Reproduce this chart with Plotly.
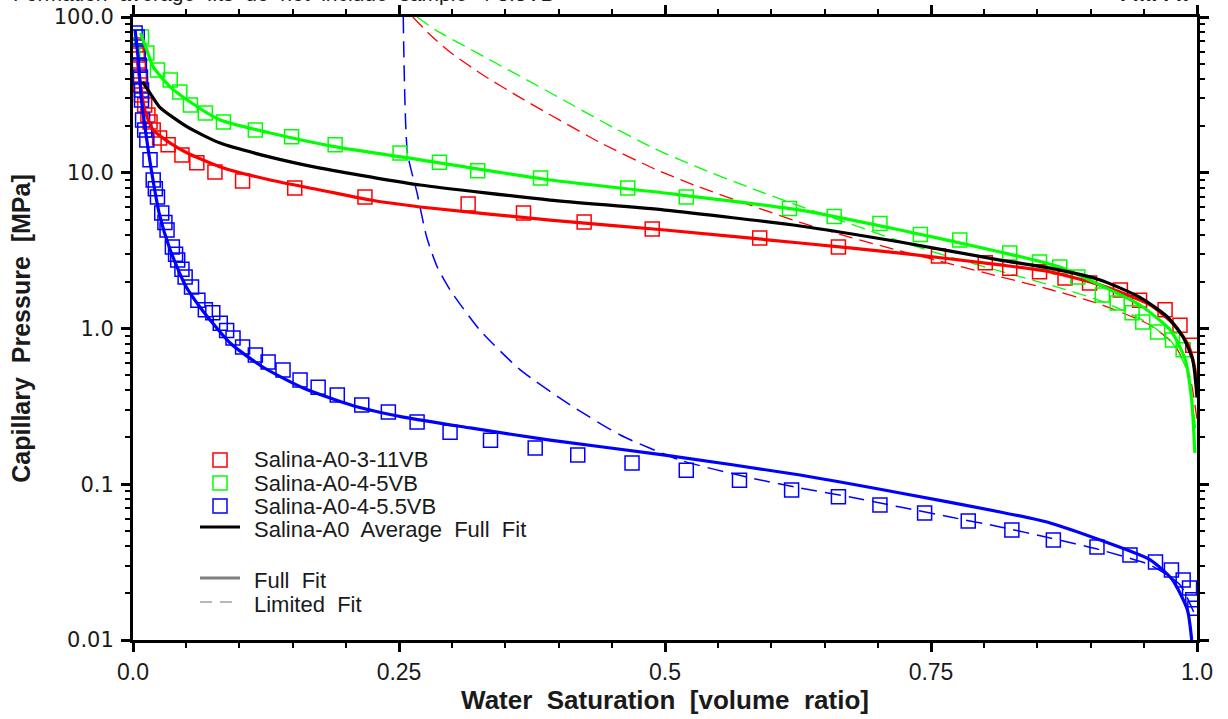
import plotly.graph_objects as go

# ---- measured samples (water saturation, capillary pressure MPa) ----
red_sw = [0.003, 0.004, 0.005, 0.006, 0.007, 0.008, 0.011, 0.014, 0.016, 0.019, 0.025, 0.033,
          0.046, 0.060, 0.077, 0.103, 0.152, 0.218, 0.315, 0.367, 0.424, 0.488, 0.589, 0.663,
          0.757, 0.801, 0.824, 0.852, 0.876, 0.899, 0.928, 0.946, 0.970, 0.984, 0.996]
red_pc = [66.1, 57.0, 49.2, 42.4, 36.6, 31.6, 27.2, 23.5, 21.2, 18.8, 16.7, 15.1,
          13.0, 11.6, 10.1, 8.85, 7.98, 6.98, 6.30, 5.52, 4.83, 4.35, 3.81, 3.34,
          2.92, 2.64, 2.44, 2.31, 2.11, 1.96, 1.77, 1.52, 1.32, 1.05, 0.78]

green_sw = [0.008, 0.013, 0.023, 0.035, 0.044, 0.054, 0.068, 0.085, 0.115, 0.149, 0.190,
            0.251, 0.288, 0.324, 0.383, 0.465, 0.520, 0.617, 0.659, 0.702, 0.740, 0.777,
            0.824, 0.852, 0.871, 0.888, 0.911, 0.925, 0.939, 0.949, 0.963, 0.977, 0.987]
green_pc = [74.4, 58.7, 45.7, 39.4, 33.0, 27.2, 24.2, 21.2, 18.8, 17.0, 15.1,
            13.4, 11.7, 10.3, 9.25, 7.98, 6.98, 5.90, 5.24, 4.72, 4.02, 3.70,
            3.05, 2.67, 2.48, 2.14, 1.64, 1.46, 1.26, 1.10, 0.95, 0.843, 0.73]

blue_sw = [0.002, 0.004, 0.005, 0.006, 0.007, 0.008, 0.008, 0.009, 0.011, 0.013, 0.016,
           0.019, 0.021, 0.023, 0.027, 0.030, 0.032, 0.037, 0.040, 0.042, 0.046, 0.049,
           0.055, 0.061, 0.068, 0.075, 0.082, 0.088, 0.094, 0.103, 0.115, 0.127, 0.141,
           0.157, 0.174, 0.192, 0.215, 0.240, 0.267, 0.298, 0.336, 0.378, 0.418, 0.469,
           0.520, 0.570, 0.619, 0.663, 0.702, 0.744, 0.785, 0.826, 0.865, 0.906, 0.937,
           0.961, 0.976, 0.987, 0.993, 0.996, 0.998]
blue_pc = [78.9, 74.4, 58.7, 49.0, 41.2, 34.0, 29.3, 21.8, 18.8, 16.2, 12.1,
           8.98, 7.9, 6.98, 5.52, 4.8, 4.29, 3.34, 3.0, 2.75, 2.4, 2.14,
           1.85, 1.52, 1.32, 1.26, 1.08, 0.97, 0.87, 0.76, 0.676, 0.610, 0.542,
           0.467, 0.420, 0.374, 0.323, 0.291, 0.251, 0.216, 0.192, 0.171, 0.154, 0.137,
           0.123, 0.106, 0.092, 0.083, 0.0736, 0.0653, 0.0581, 0.0508, 0.0438, 0.0395, 0.0351,
           0.0317, 0.0281, 0.0243, 0.0216, 0.0181, 0.0160]

# ---- full fits ----
red_full_sw = [0.004, 0.007, 0.011, 0.019, 0.035, 0.051, 0.082, 0.129, 0.176, 0.223, 0.270,
               0.392, 0.500, 0.627, 0.721, 0.815, 0.862, 0.909, 0.956, 0.979, 0.992, 0.998, 1.0]
red_full_pc = [53.0, 36.6, 25.3, 18.8, 15.5, 13.4, 10.9, 8.98, 7.75, 6.68, 6.03,
               4.97, 4.29, 3.54, 3.05, 2.56, 2.31, 1.90, 1.42, 1.05, 0.78, 0.55, 0.40]

green_full_sw = [0.007, 0.013, 0.019, 0.035, 0.051, 0.082, 0.129, 0.192, 0.260, 0.392, 0.500,
                 0.627, 0.721, 0.815, 0.871, 0.909, 0.946, 0.975, 0.989, 0.995, 0.998]
green_full_pc = [78.9, 61.4, 47.8, 35.6, 29.3, 21.8, 18.0, 14.6, 12.4, 8.98, 7.41,
                 5.76, 4.29, 3.10, 2.48, 1.90, 1.42, 0.977, 0.628, 0.347, 0.159]

blue_full_sw = [0.002, 0.005, 0.008, 0.013, 0.018, 0.025, 0.035, 0.049, 0.063, 0.091, 0.122,
                0.160, 0.207, 0.254, 0.317, 0.392, 0.500, 0.627, 0.721, 0.815, 0.862, 0.909,
                0.956, 0.977, 0.991, 0.995]
blue_full_pc = [82.6, 53.0, 29.3, 16.2, 9.68, 5.35, 3.19, 1.90, 1.37, 0.81, 0.566,
                0.415, 0.319, 0.270, 0.230, 0.192, 0.154, 0.1146, 0.0879, 0.0664, 0.0564, 0.0438,
                0.0327, 0.0243, 0.0156, 0.010]

avg_full_sw = [0.009, 0.016, 0.025, 0.051, 0.082, 0.129, 0.176, 0.223, 0.270, 0.392, 0.500,
               0.627, 0.721, 0.815, 0.862, 0.909, 0.946, 0.972, 0.987, 0.996, 1.0]
avg_full_pc = [38.3, 32.5, 26.4, 19.7, 15.5, 12.6, 10.7, 9.40, 8.34, 6.68, 5.76,
               4.55, 3.59, 2.75, 2.44, 2.05, 1.59, 1.19, 0.88, 0.628, 0.36]

# ---- limited fits ----
red_lim_sw = [0.263, 0.28, 0.30, 0.33, 0.36, 0.39, 0.44, 0.49, 0.53, 0.58, 0.627,
              0.674, 0.721, 0.768, 0.815, 0.862, 0.909, 0.956, 0.979, 0.993, 1.0]
red_lim_pc = [100.0, 76.0, 58.0, 42.0, 31.5, 24.0, 15.5, 10.6, 8.2, 6.2, 4.8,
              3.85, 3.15, 2.6, 2.15, 1.78, 1.43, 1.05, 0.78, 0.50, 0.26]

green_lim_sw = [0.267, 0.285, 0.31, 0.34, 0.37, 0.40, 0.44, 0.49, 0.53, 0.58, 0.63,
                0.68, 0.72, 0.77, 0.82, 0.86, 0.91, 0.95, 0.975, 0.99, 0.999]
green_lim_pc = [100.0, 82.0, 66.0, 51.0, 39.5, 30.5, 21.5, 14.3, 10.9, 8.0, 6.0,
                4.55, 3.65, 2.85, 2.28, 1.92, 1.5, 1.12, 0.84, 0.55, 0.22]

blue_lim_sw = [0.254, 0.258, 0.267, 0.276, 0.286, 0.298, 0.326, 0.364, 0.411, 0.458, 0.514,
               0.580, 0.627, 0.674, 0.721, 0.768, 0.815, 0.862, 0.909, 0.956, 0.984, 0.998]
blue_lim_pc = [100.0, 13.4, 7.41, 3.87, 2.48, 1.77, 0.977, 0.542, 0.323, 0.207, 0.143,
               0.110, 0.0946, 0.0828, 0.0714, 0.0616, 0.0532, 0.0452, 0.0379, 0.0303, 0.0226, 0.0145]

x_tickvals = [0.0, 0.25, 0.5, 0.75, 1.0]
x_ticktext = ["0.0", "0.25", "0.5", "0.75", "1.0"]
y_tickvals = [0.01, 0.1, 1, 10, 100]
y_ticktext = ["0.01", "0.1", "1.0", "10.0", "100.0"]

RED, GREEN, BLUE = "#ff0000", "#00ff00", "#0000ff"

fig = go.Figure()


def add_line(sw, pc, color, width, dash="solid"):
    fig.add_trace(go.Scatter(x=sw, y=pc, mode="lines", showlegend=False, hoverinfo="skip",
                             line=dict(color=color, width=width, dash=dash,
                                       shape="spline", smoothing=0.6)))


def add_points(sw, pc, color):
    fig.add_trace(go.Scatter(x=sw, y=pc, mode="markers", showlegend=False,
                             marker=dict(symbol="square-open", size=14, color=color,
                                         line=dict(color=color, width=1.5))))


# limited fits (thin dashed)
add_line(red_lim_sw, red_lim_pc, RED, 1.3, "14px,7px")
add_line(green_lim_sw, green_lim_pc, GREEN, 1.3, "14px,7px")
add_line(blue_lim_sw, blue_lim_pc, BLUE, 1.5, "16px,8px")
# samples
add_points(red_sw, red_pc, RED)
add_points(green_sw, green_pc, GREEN)
add_points(blue_sw, blue_pc, BLUE)
# full fits
add_line(red_full_sw, red_full_pc, RED, 3.2)
add_line(green_full_sw, green_full_pc, GREEN, 3.2)
add_line(blue_full_sw, blue_full_pc, BLUE, 3.2)
add_line(avg_full_sw, avg_full_pc, "#000000", 3.2)

# ---- plot frame geometry (pixels) ----
W, H = 1228, 719
L, R, T, B = 133, 31, 17, 79
PW, PH = W - L - R, H - T - B


def px(xp):
    return (xp - L) / PW


def py(yp):
    return (H - B - yp) / PH


TXT = dict(family="Liberation Sans, Arial, sans-serif", size=22, color="#1a1a1a")

# custom key inside the plot area
key_rows = [("marker", RED, "Salina-A0-3-11VB", 460),
            ("marker", GREEN, "Salina-A0-4-5VB", 483),
            ("marker", BLUE, "Salina-A0-4-5.5VB", 506),
            ("line", "#000000", "Salina-A0  Average  Full  Fit", 529),
            ("line", "#808080", "Full  Fit", 580),
            ("dash", "#a0a0a0", "Limited  Fit", 604)]
shapes, annotations = [], []
for kind, col, label, yc in key_rows:
    if kind == "marker":
        shapes.append(dict(type="rect", xref="paper", yref="paper",
                           x0=px(213), x1=px(227), y0=py(yc - 7), y1=py(yc + 7),
                           line=dict(color=col, width=1.5)))
    else:
        shapes.append(dict(type="line", xref="paper", yref="paper",
                           x0=px(200), x1=px(240), y0=py(yc - 2), y1=py(yc - 2),
                           line=dict(color=col, width=3 if kind == "line" else 1.5,
                                     dash="solid" if kind == "line" else "12px,8px")))
    annotations.append(dict(xref="paper", yref="paper", x=px(252), y=py(yc),
                            xanchor="left", yanchor="middle", showarrow=False,
                            text=label, font=TXT))

# header lines running off the top edge of the page
annotations.append(dict(xref="paper", yref="paper", x=px(557), y=py(7),
                        xanchor="right", yanchor="bottom", showarrow=False,
                        text="Formation  average  fits  do  not  include  sample  4-5.5VB",
                        font=dict(family="Liberation Sans, Arial", size=21, color="#1a1a1a")))
annotations.append(dict(xref="paper", yref="paper", x=px(1190), y=py(7),
                        xanchor="right", yanchor="bottom", showarrow=False,
                        text="<b>Fm. Fk</b>",
                        font=dict(family="Liberation Sans, Arial", size=21, color="#1a1a1a")))

axis_common = dict(showline=True, linecolor="black", linewidth=3, mirror="allticks",
                   ticks="outside", tickcolor="black", tickwidth=2.5, ticklen=9,
                   showgrid=False, zeroline=False, automargin=False)

fig.update_layout(
    width=W, height=H,
    margin=dict(l=L, r=R, t=T, b=B),
    paper_bgcolor="white", plot_bgcolor="white",
    shapes=shapes, annotations=annotations,
    showlegend=False,
    xaxis=dict(range=[0, 1], tickvals=x_tickvals, ticktext=x_ticktext,
               tickfont=dict(family="Liberation Sans Narrow, Liberation Sans, Arial", size=23,
                             color="#1a1a1a"),
               minor=dict(ticks="outside", dtick=0.05, ticklen=5, tickwidth=1.5,
                          tickcolor="black", showgrid=False),
               title=dict(text="<b>Water  Saturation  [volume  ratio]</b>", standoff=4,
                          font=dict(family="Liberation Sans Narrow, Liberation Sans, Arial",
                                    size=26, color="#1a1a1a")),
               **axis_common),
    yaxis=dict(type="log", range=[-2, 2], tickvals=y_tickvals, ticktext=y_ticktext,
               tickfont=dict(family="DejaVu Sans, Liberation Sans", size=21, color="#1a1a1a"),
               ticklabelstandoff=3,
               minor=dict(ticks="outside", dtick="D1", ticklen=5, tickwidth=1.5,
                          tickcolor="black", showgrid=False),
               title=dict(text="<b>Capillary  Pressure  [MPa]</b>", standoff=16,
                          font=dict(family="Liberation Sans, Arial", size=25, color="#1a1a1a")),
               **axis_common),
)

fig.write_html("out.html")
